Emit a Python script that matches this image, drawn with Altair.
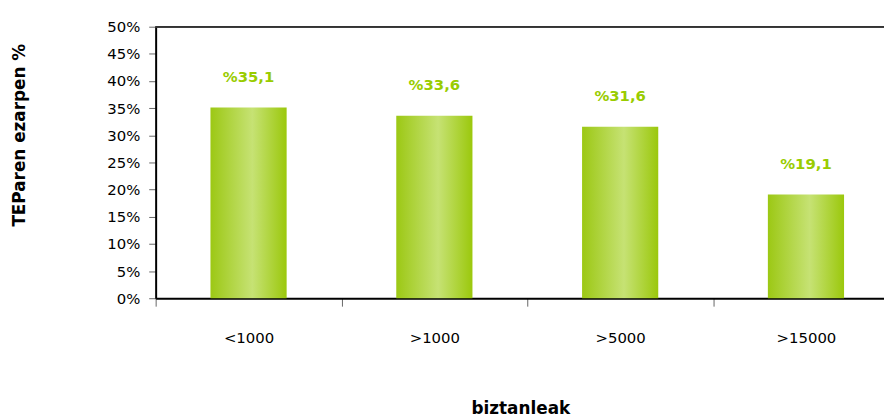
import altair as alt
import pandas as pd

categories = ["<1000", ">1000", ">5000", ">15000"]
values = [35.1, 33.6, 31.6, 19.1]
labels = ["%" + f"{v:.1f}".replace(".", ",") for v in values]
y_ticks = [0, 5, 10, 15, 20, 25, 30, 35, 40, 45, 50]

df = pd.DataFrame({"cat": categories, "val": values, "lab": labels})

FONT = "DejaVu Sans"

x_scale = alt.Scale(range=[0, 750], paddingInner=0, paddingOuter=0)

x_enc = alt.X(
    "cat:N",
    sort=categories,
    scale=x_scale,
    axis=alt.Axis(
        title="biztanleak",
        labelAngle=0,
        tickBand="extent",
        domainColor="#000000",
        domainWidth=2,
        tickColor="#666666",
        tickSize=8,
        tickWidth=1,
        labelPadding=25,
        labelFont=FONT,
        labelFontSize=15,
        labelColor="#000000",
        titleFont=FONT,
        titleFontSize=17,
        titleFontWeight="bold",
        titleColor="#000000",
        titleX=368,
        titleY=111,
        titleAlign="center",
        titleBaseline="middle",
    ),
)

y_enc = alt.Y(
    "val:Q",
    scale=alt.Scale(domain=[0, 50], nice=False),
    axis=alt.Axis(
        title="TEParen ezarpen %",
        values=y_ticks,
        labelExpr="datum.value + '%'",
        labelOverlap=False,
        grid=False,
        domainColor="#000000",
        domainWidth=2,
        tickColor="#666666",
        tickSize=7,
        labelPadding=9,
        labelFont=FONT,
        labelFontSize=15,
        labelColor="#000000",
        titleFont=FONT,
        titleFontSize=17,
        titleFontWeight="bold",
        titleColor="#000000",
        titleX=-137,
        titleY=109,
        titleAlign="center",
        titleBaseline="middle",
        titleAngle=270,
    ),
)

grad = alt.Gradient(
    gradient="linear",
    x1=0, x2=1, y1=0, y2=0,
    stops=[
        alt.GradientStop(color="#9cc814", offset=0),
        alt.GradientStop(color="#c6e274", offset=0.55),
        alt.GradientStop(color="#9bc80c", offset=1),
    ],
)

bars = alt.Chart(df).mark_bar(color=grad, width=alt.RelativeBandSize(0.41)).encode(
    x=x_enc, y=y_enc
)

text = alt.Chart(df).mark_text(
    dy=-31, font=FONT, fontSize=15, fontWeight="bold", color="#99cc00", baseline="middle"
).encode(x=x_enc, y=y_enc, text="lab:N")

top = alt.Chart(df).mark_rule(color="#333333", strokeWidth=1.5).encode(
    x=alt.value(0), x2=alt.value(760), y=alt.value(0)
)

chart = (
    alt.layer(bars, text, top)
    .properties(
        width=735,
        height=274,
        autosize=alt.AutoSizeParams(type="none"),
        padding={"left": 149, "top": 17, "right": 0, "bottom": 120},
    )
    .configure_view(stroke=None)
    .configure(background="white")
)

chart.save("out.html", embed_options={"renderer": "svg", "actions": False})
